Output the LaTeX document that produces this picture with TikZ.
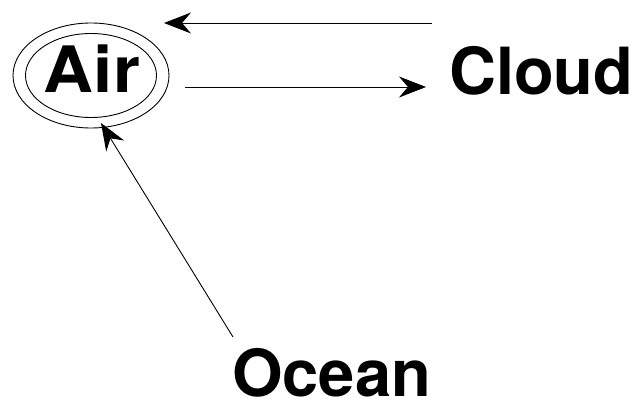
\documentclass[tikz,border=0pt]{standalone}
\usepackage{fontspec}
\setmainfont{TeX Gyre Heros}
\usetikzlibrary{arrows.meta,shapes.geometric}
\tikzset{
  label text/.style={font=\fontsize{65}{65}\selectfont\bfseries, inner sep=0pt},
  ring/.style={draw, ellipse, line width=0.9pt, inner sep=0pt},
  link/.style={draw, line width=0.9pt,
    -{Stealth[length=27pt, width=21pt, inset=9pt]}},
}
\begin{document}
\begin{tikzpicture}[x=1pt, y=-1pt]
  \useasboundingbox (0,0) rectangle (644,403);
  % "Air" inside a double ellipse
  \node[ring, minimum width=131pt, minimum height=84pt] (airin) at (91,75.5) {};
  \node[ring, minimum width=156pt, minimum height=105pt] (airout) at (91,75.5) {};
  \node[label text, font=\fontsize{64}{64}\selectfont\bfseries, anchor=base]
    (air) at (92,93) {\scalebox{1.08}[1]{Air}};
  % the other two labels
  \node[label text, anchor=base west] (cloud) at (449,95) {Cloud};
  \node[label text, anchor=base west] (ocean) at (232,396) {Ocean};
  % connector end points
  \coordinate (c2a start) at (432,23);
  \coordinate (c2a end) at (164,23);
  \coordinate (a2c start) at (185,87);
  \coordinate (a2c end) at (426,87);
  \coordinate (o2a start) at (233,337);
  \coordinate (o2a end) at (101,123);
  \draw[link] (c2a start) -- (c2a end);
  \draw[link] (a2c start) -- (a2c end);
  \draw[link] (o2a start) -- (o2a end);
\end{tikzpicture}
\end{document}
